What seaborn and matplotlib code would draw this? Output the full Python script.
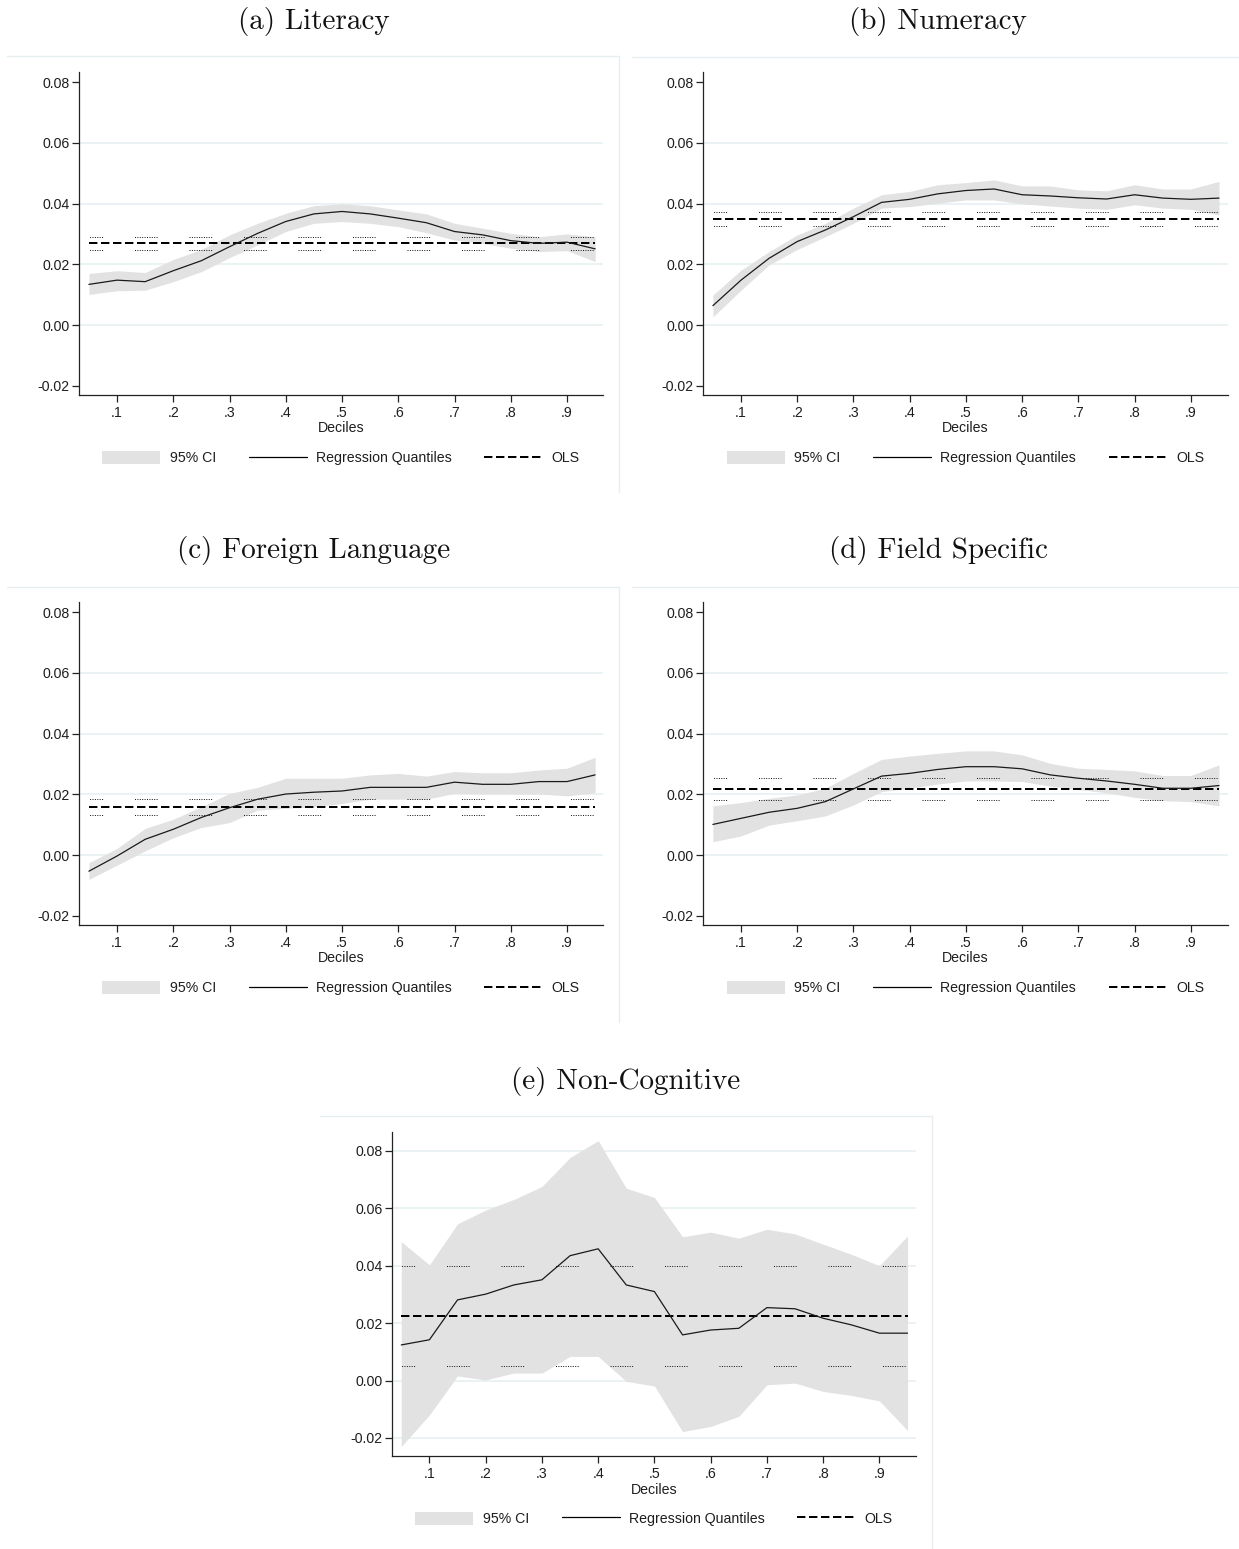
import numpy as np
import pandas as pd
import matplotlib
matplotlib.use("Agg")
import matplotlib.pyplot as plt
import seaborn as sns
from matplotlib.patches import Patch
from matplotlib.lines import Line2D

# ---------------- data ----------------
quantiles = [0.05, 0.10, 0.15, 0.20, 0.25, 0.30, 0.35, 0.40, 0.45, 0.50,
             0.55, 0.60, 0.65, 0.70, 0.75, 0.80, 0.85, 0.90, 0.95]
xtick_vals = [0.1, 0.2, 0.3, 0.4, 0.5, 0.6, 0.7, 0.8, 0.9]
xtick_labels = [".1", ".2", ".3", ".4", ".5", ".6", ".7", ".8", ".9"]
ytick_vals = [0.08, 0.06, 0.04, 0.02, 0.00, -0.02]
ytick_labels = ["0.08", "0.06", "0.04", "0.02", "0.00", "-0.02"]
legend_labels = ["95% CI", "Regression Quantiles", "OLS"]
x_label = "Deciles"

titles = ["(a) Literacy", "(b) Numeracy", "(c) Foreign Language",
          "(d) Field Specific", "(e) Non-Cognitive"]

lit_coef = [0.0134, 0.0148, 0.0143, 0.0179, 0.0212, 0.0258, 0.0302, 0.0341, 0.0366, 0.0374,
            0.0366, 0.0352, 0.0337, 0.0308, 0.0297, 0.0278, 0.0269, 0.0273, 0.0251]
lit_hi = [0.0170, 0.0179, 0.0173, 0.0216, 0.0249, 0.0297, 0.0335, 0.0368, 0.0393, 0.0399,
          0.0393, 0.0379, 0.0366, 0.0335, 0.0319, 0.0302, 0.0291, 0.0300, 0.0291]
lit_lo = [0.0101, 0.0113, 0.0115, 0.0143, 0.0176, 0.0222, 0.0264, 0.0308, 0.0335, 0.0341,
          0.0335, 0.0324, 0.0304, 0.0280, 0.0269, 0.0253, 0.0242, 0.0245, 0.0209]
lit_ols, lit_ols_lo, lit_ols_hi = 0.0269, 0.0247, 0.0291

num_coef = [0.0064, 0.0148, 0.0220, 0.0275, 0.0313, 0.0357, 0.0404, 0.0414, 0.0432, 0.0443,
            0.0448, 0.0429, 0.0425, 0.0419, 0.0415, 0.0429, 0.0418, 0.0414, 0.0418]
num_hi = [0.0099, 0.0181, 0.0242, 0.0297, 0.0335, 0.0385, 0.0429, 0.0440, 0.0462, 0.0469,
          0.0478, 0.0458, 0.0458, 0.0445, 0.0442, 0.0462, 0.0448, 0.0448, 0.0473]
num_lo = [0.0027, 0.0115, 0.0198, 0.0249, 0.0291, 0.0335, 0.0385, 0.0390, 0.0401, 0.0412,
          0.0412, 0.0399, 0.0392, 0.0385, 0.0381, 0.0396, 0.0385, 0.0381, 0.0363]
num_ols, num_ols_lo, num_ols_hi = 0.0348, 0.0325, 0.0371

for_coef = [-0.0053, -0.0003, 0.0052, 0.0085, 0.0124, 0.0156, 0.0184, 0.0201, 0.0207, 0.0211,
            0.0223, 0.0223, 0.0223, 0.0240, 0.0233, 0.0233, 0.0242, 0.0242, 0.0264]
for_hi = [-0.0025, 0.0022, 0.0088, 0.0118, 0.0159, 0.0203, 0.0223, 0.0253, 0.0253, 0.0253,
          0.0264, 0.0269, 0.0260, 0.0275, 0.0271, 0.0271, 0.0280, 0.0286, 0.0322]
for_lo = [-0.0080, -0.0033, 0.0014, 0.0057, 0.0091, 0.0107, 0.0148, 0.0154, 0.0159, 0.0170,
          0.0184, 0.0184, 0.0184, 0.0203, 0.0201, 0.0201, 0.0201, 0.0195, 0.0205]
for_ols, for_ols_lo, for_ols_hi = 0.0159, 0.0133, 0.0185

fld_coef = [0.0101, 0.0121, 0.0141, 0.0154, 0.0176, 0.0218, 0.0260, 0.0269, 0.0282, 0.0291,
            0.0291, 0.0284, 0.0264, 0.0253, 0.0244, 0.0233, 0.0220, 0.0220, 0.0229]
fld_hi = [0.0162, 0.0173, 0.0187, 0.0198, 0.0220, 0.0269, 0.0315, 0.0326, 0.0335, 0.0343,
          0.0343, 0.0330, 0.0302, 0.0286, 0.0282, 0.0277, 0.0262, 0.0262, 0.0297]
fld_lo = [0.0044, 0.0063, 0.0099, 0.0113, 0.0129, 0.0165, 0.0209, 0.0220, 0.0234, 0.0244,
          0.0244, 0.0242, 0.0227, 0.0216, 0.0205, 0.0190, 0.0179, 0.0176, 0.0162]
fld_ols, fld_ols_lo, fld_ols_hi = 0.0219, 0.0181, 0.0254

nc_coef = [0.0124, 0.0142, 0.0281, 0.0301, 0.0333, 0.0351, 0.0435, 0.0459, 0.0333, 0.0310,
           0.0159, 0.0176, 0.0182, 0.0254, 0.0250, 0.0217, 0.0194, 0.0165, 0.0165]
nc_hi = [0.0484, 0.0403, 0.0546, 0.0594, 0.0631, 0.0676, 0.0777, 0.0836, 0.0670, 0.0638,
         0.0501, 0.0517, 0.0496, 0.0527, 0.0511, 0.0475, 0.0440, 0.0400, 0.0504]
nc_lo = [-0.0230, -0.0120, 0.0016, 0.0002, 0.0026, 0.0026, 0.0084, 0.0084, -0.0003, -0.0019,
         -0.0178, -0.0160, -0.0125, -0.0015, -0.0009, -0.0038, -0.0052, -0.0071, -0.0174]
nc_ols, nc_ols_lo, nc_ols_hi = 0.0226, 0.0052, 0.0400

panels_data = [
    (lit_coef, lit_lo, lit_hi, lit_ols, lit_ols_lo, lit_ols_hi),
    (num_coef, num_lo, num_hi, num_ols, num_ols_lo, num_ols_hi),
    (for_coef, for_lo, for_hi, for_ols, for_ols_lo, for_ols_hi),
    (fld_coef, fld_lo, fld_hi, fld_ols, fld_ols_lo, fld_ols_hi),
    (nc_coef, nc_lo, nc_hi, nc_ols, nc_ols_lo, nc_ols_hi),
]

# ---------------- style ----------------
sns.set_theme(style="white")
plt.rcParams["font.family"] = ["Liberation Sans", "DejaVu Sans"]
plt.rcParams["axes.unicode_minus"] = False

W, H = 1239, 1549
fig = plt.figure(figsize=(W / 100, H / 100), dpi=100)
fig.patch.set_facecolor("white")

TXT = "#1e1e1e"
BAND = "#e2e2e2"
GRID = "#e8f0f2"
BORDER = "#e6eef0"
FS = 10.2

# layout in pixels: (left, right, top, bottom), title center, xlim, ylim, grid values
layouts = [
    dict(box=(79, 603, 72, 395), tc=(314, 21), xlim=(0.0324, 0.964), ylim=(-0.023, 0.0833),
         grid=[0.06, 0.04, 0.02, 0.00]),
    dict(box=(703, 1228, 72, 395), tc=(938, 21), xlim=(0.0324, 0.966), ylim=(-0.023, 0.0833),
         grid=[0.06, 0.04, 0.02, 0.00]),
    dict(box=(79, 603, 602, 925), tc=(314, 551), xlim=(0.0324, 0.964), ylim=(-0.023, 0.0833),
         grid=[0.06, 0.04, 0.02, 0.00]),
    dict(box=(703, 1228, 602, 925), tc=(938, 551), xlim=(0.0324, 0.966), ylim=(-0.023, 0.0833),
         grid=[0.06, 0.04, 0.02, 0.00]),
    dict(box=(392, 916, 1132, 1456), tc=(626, 1081), xlim=(0.0335, 0.965), ylim=(-0.0263, 0.0866),
         grid=[0.08, 0.06, 0.04, 0.02, 0.00, -0.02]),
]

# faint panel frame lines (figure pixel coords)
frame_lines = [
    ((7, 619), (56, 56)), ((619, 619), (56, 492)),
    ((632, 1239), (57, 57)),
    ((7, 619), (587, 587)), ((619, 619), (587, 1022)),
    ((632, 1239), (587, 587)),
    ((320, 932), (1116, 1116)), ((932, 932), (1116, 1549)),
]
for xs, ys in frame_lines:
    fig.add_artist(Line2D([x / W for x in xs], [1 - y / H for y in ys],
                          transform=fig.transFigure, color=BORDER, lw=1.0))

dot_pattern = [1.0, 1.4] * 9 + [1.0, 31.9]
dotted_style = (9.0, tuple(dot_pattern))
dashed_style = (0, (4.2, 1.8))

for i, (lay, title, pdata) in enumerate(zip(layouts, titles, panels_data)):
    coef, lo, hi, ols, ols_lo, ols_hi = pdata
    l, r, t, b = lay["box"]
    ax = fig.add_axes([l / W, 1 - b / H, (r - l) / W, (b - t) / H])
    ax.set_facecolor("white")

    for g in lay["grid"]:
        ax.axhline(g, color=GRID, lw=1.2, zorder=0)

    df = pd.DataFrame({"q": quantiles, "coef": coef, "lo": lo, "hi": hi})
    ax.fill_between(df["q"], df["lo"], df["hi"], color=BAND, lw=0, zorder=1)
    sns.lineplot(data=df, x="q", y="coef", ax=ax, color="#1a1a1a", lw=0.9,
                 zorder=4, estimator=None, legend=False)
    ax.hlines([ols_lo, ols_hi], quantiles[0], quantiles[-1], colors="#1a1a1a",
              lw=0.72, linestyles=[dotted_style], zorder=3)
    ax.hlines(ols, quantiles[0], quantiles[-1], colors="black", lw=1.44,
              linestyles=[dashed_style], zorder=3)

    ax.set_xlim(*lay["xlim"])
    ax.set_ylim(*lay["ylim"])
    ax.set_xticks(xtick_vals)
    ax.set_xticklabels(xtick_labels)
    ax.set_yticks(ytick_vals)
    ax.set_yticklabels(ytick_labels)
    ax.set_xlabel(x_label, fontsize=FS, color=TXT, labelpad=1)
    ax.set_ylabel("")
    for s in ["top", "right"]:
        ax.spines[s].set_visible(False)
    for s in ["left", "bottom"]:
        ax.spines[s].set_color("#222222")
        ax.spines[s].set_linewidth(0.9)
    ax.tick_params(axis="both", direction="out", length=5, width=0.9, colors="#222222",
                   labelsize=FS, labelcolor=TXT, pad=2, left=True, bottom=True)
    ax.tick_params(axis="x", pad=3)
    ax.grid(False)

    # title
    fig.text(lay["tc"][0] / W, 1 - lay["tc"][1] / H, title, ha="center", va="center",
             fontfamily="cmr10", fontsize=21, color="#111111")

    # legend
    handles = [Patch(facecolor=BAND, edgecolor="none"),
               Line2D([], [], color="black", lw=0.9),
               Line2D([], [], color="black", lw=1.44, linestyle=dashed_style)]
    cx = (l + r) / 2
    fig.legend(handles, legend_labels, loc="center",
               bbox_to_anchor=(cx / W, 1 - (b + 63) / H), ncol=3, frameon=False,
               fontsize=FS, handlelength=4.1, handleheight=1.1, handletextpad=0.65,
               columnspacing=2.3, labelcolor=TXT, borderpad=0, borderaxespad=0)

fig.savefig("out.png", dpi=100, facecolor="white")
